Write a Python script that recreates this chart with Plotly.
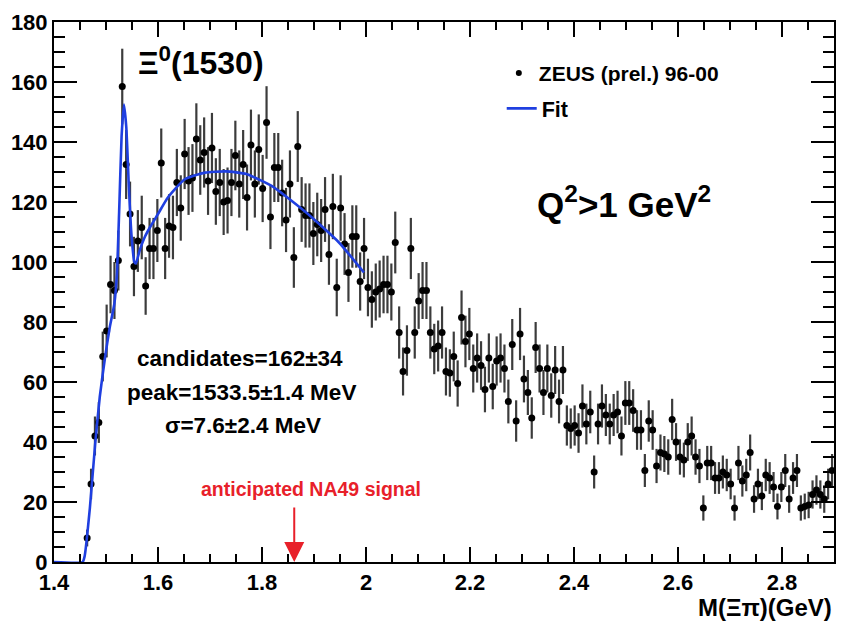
import numpy as np
import plotly.graph_objects as go

# Histogram binning (200 bins over 1.4-2.9 GeV)
bin_lo = 1.4
bin_width = 0.0075
first_bin = 8

counts = [8, 26, 42, 46.5, 68.5, 77, 92.5, 90.5, 100.5, 158.5,
          132.5, 116, 98.5, 107, 111.5, 92, 104.5, 104.5, 110.5, 133,
          104.5, 112, 111.5, 126.5, 118, 136, 127, 128, 141, 134,
          136.5, 127, 138, 123.5, 126.5, 120, 120.5, 126.5, 135.5, 126,
          132.5, 121.5, 139, 126, 137.5, 124.5, 146.5, 115, 131.5, 131.5,
          123, 114, 126, 101.5, 138.5, 117.5, 115.5, 115.5, 109.5, 112.5,
          110.5, 117.5, 102.5, 118.5, 91.5, 118, 106, 96.5, 108.5, 108.5,
          93.5, 104.5, 91.5, 87.5, 90, 91, 92.5, 92.5, 90, 106.5,
          76.5, 63.5, 70.5, 104.5, 76.5, 87, 90.5, 90.5, 76.5, 71,
          72, 76.5, 63.5, 63, 68.5, 59.5, 81.5, 73.5, 76, 64.5,
          68, 65.5, 57.5, 68, 58.5, 67, 68, 64.5, 53.5, 72.5,
          47, 76, 61, 56.5, 48, 71.5, 64.5, 56.5, 64.5, 55.5,
          64, 53.5, 64, 45.5, 44.5, 45.5, 43, 52, 46, 50,
          30, 46, 52, 49, 46, 49, 50, 42, 53, 53,
          50.5, 44, 44, 30.5, 47, 44, 32, 36.5, 36, 35,
          47.5, 40, 35, 34, 40, 42, 35, 32, 18, 33,
          33, 28, 28, 30, 29, 26, 18, 33, 27, 29,
          36.5, 21, 26, 22, 29, 28, 25, 18.5, 25, 30.5,
          21, 28, 30.5, 18, 18.5, 19, 22.5, 24, 22.5, 21,
          26, 30.5]

errors = [2.8, 5.1, 6.5, 6.8, 8.3, 8.8, 9.6, 9.5, 10.0, 12.6,
          11.5, 10.8, 9.9, 10.3, 10.6, 9.6, 10.2, 10.2, 10.5, 11.5,
          10.2, 10.6, 10.6, 11.2, 10.9, 11.7, 11.3, 11.3, 11.9, 11.6,
          11.7, 11.3, 11.7, 11.1, 11.2, 11.0, 11.0, 11.2, 11.6, 11.2,
          11.5, 11.0, 11.8, 11.2, 11.7, 11.2, 12.1, 10.7, 11.5, 11.5,
          11.1, 10.7, 11.2, 10.1, 11.8, 10.8, 10.7, 10.7, 10.5, 10.6,
          10.5, 10.8, 10.1, 10.9, 9.6, 10.9, 10.3, 9.8, 10.4, 10.4,
          9.7, 10.2, 9.6, 9.4, 9.5, 9.5, 9.6, 9.6, 9.5, 10.3,
          8.7, 8.0, 8.4, 10.2, 8.7, 9.3, 9.5, 9.5, 8.7, 8.4,
          8.5, 8.7, 8.0, 7.9, 8.3, 7.7, 9.0, 8.6, 8.7, 8.0,
          8.2, 8.1, 7.6, 8.2, 7.6, 8.2, 8.2, 8.0, 7.3, 8.5,
          6.9, 8.7, 7.8, 7.5, 6.9, 8.5, 8.0, 7.5, 8.0, 7.4,
          8.0, 7.3, 8.0, 6.7, 6.7, 6.7, 6.6, 7.2, 6.8, 7.1,
          5.5, 6.8, 7.2, 7.0, 6.8, 7.0, 7.1, 6.5, 7.3, 7.3,
          7.1, 6.6, 6.6, 5.5, 6.9, 6.6, 5.7, 6.0, 6.0, 5.9,
          6.9, 6.3, 5.9, 5.8, 6.3, 6.5, 5.9, 5.7, 4.2, 5.7,
          5.7, 5.3, 5.3, 5.5, 5.4, 5.1, 4.2, 5.7, 5.2, 5.4,
          6.0, 4.6, 5.1, 4.7, 5.4, 5.3, 5.0, 4.3, 5.0, 5.5,
          4.6, 5.3, 5.5, 4.2, 4.3, 4.4, 4.7, 4.9, 4.7, 4.6,
          5.1, 5.5]

# Fit curve
fit_x = [1.400, 1.455, 1.459, 1.469, 1.479, 1.488, 1.498, 1.507, 1.516,
         1.521, 1.5255, 1.530, 1.5345, 1.539, 1.544, 1.549, 1.5545, 1.5575,
         1.565, 1.575, 1.586, 1.600, 1.619, 1.651, 1.690, 1.731, 1.770,
         1.820, 1.885, 1.948, 1.996]
fit_y = [0, 0, 2, 18, 39, 55, 68, 78, 86,
         96, 118, 142, 152.5, 145, 125, 109, 100, 99.5,
         104, 108.5, 112, 116, 121.5, 127.5, 129.8, 130.2, 129.3,
         125.2, 116.5, 106.5, 96.5]

na49_mass = 1.862

x_centers = bin_lo + (first_bin + np.arange(len(counts)) + 0.5) * bin_width

FONT = "Liberation Sans, Arial, Helvetica, sans-serif"

fig = go.Figure()

fig.add_trace(go.Scatter(
    x=x_centers, y=counts, mode="markers",
    marker=dict(color="black", size=7),
    error_y=dict(type="data", array=errors, visible=True,
                 color="#3c3c3c", thickness=2.2, width=0),
    showlegend=False,
))

fig.add_trace(go.Scatter(
    x=fit_x, y=fit_y, mode="lines",
    line=dict(color="#1f3fe0", width=2.6, shape="spline", smoothing=0.5),
    name="Fit", legend="legend2",
))

# legend-only entry for the data
fig.add_trace(go.Scatter(
    x=[None], y=[None], mode="markers",
    marker=dict(color="black", size=6),
    name="ZEUS (prel.) 96-00", legend="legend",
))

annotations = [
    dict(x=1.682, y=167, text="<b>Ξ<sup>0</sup>(1530)</b>",
         font=dict(size=32, family=FONT, color="black")),
    dict(x=2.497, y=120, text="<b>Q<sup>2</sup>>1 GeV<sup>2</sup></b>",
         font=dict(size=35, family=FONT, color="black")),
    dict(x=1.757, y=68, text="<b>candidates=162±34</b>",
         font=dict(size=22.5, family=FONT, color="black")),
    dict(x=1.760, y=56.4, text="<b>peak=1533.5±1.4 MeV</b>",
         font=dict(size=22.5, family=FONT, color="black")),
    dict(x=1.764, y=45.6, text="<b>σ=7.6±2.4 MeV</b>",
         font=dict(size=22.5, family=FONT, color="black")),
    dict(x=1.895, y=24.5, text="<b>anticipated NA49 signal</b>",
         font=dict(size=19.5, family=FONT, color="#e8202a")),
]
for a in annotations:
    a.update(xref="x", yref="y", showarrow=False, xanchor="center", yanchor="middle")

# arrow
annotations.append(dict(
    x=na49_mass, y=0, ax=na49_mass, ay=18.7, xref="x", yref="y",
    axref="x", ayref="y", showarrow=True, arrowhead=2, arrowsize=2,
    arrowwidth=2, arrowcolor="#e8202a", text="", standoff=0,
))
# axis title
annotations.append(dict(
    x=1.0, y=-0.084, xref="paper", yref="paper", xanchor="right", yanchor="middle",
    text="<b>M(Ξπ)(GeV)</b>", showarrow=False,
    font=dict(size=24, family=FONT, color="black"),
))

fig.update_layout(
    width=846, height=621,
    margin=dict(l=54, r=10, t=13, b=59),
    paper_bgcolor="white", plot_bgcolor="white",
    font=dict(family=FONT, color="black"),
    annotations=annotations,
    legend=dict(x=0.5703, y=0.905, xanchor="left", yanchor="middle",
                bgcolor="rgba(0,0,0,0)",
                font=dict(size=21, family=FONT, weight="bold")),
    legend2=dict(x=0.574, y=0.840, xanchor="left", yanchor="middle",
                 bgcolor="rgba(0,0,0,0)",
                 font=dict(size=21.5, family=FONT, weight="bold")),
)

fig.update_xaxes(
    range=[1.4, 2.9], tick0=1.4, dtick=0.2, ticks="inside", ticklen=15,
    tickwidth=2, tickcolor="black", showline=True, linewidth=2,
    linecolor="black", mirror="allticks", showgrid=False, zeroline=False,
    tickfont=dict(size=22, family=FONT, weight="bold"),
    minor=dict(dtick=0.05, ticks="inside", ticklen=8, tickwidth=1.5,
               tickcolor="black", showgrid=False),
)
fig.update_yaxes(
    range=[0, 180], tick0=0, dtick=20, ticks="inside", ticklen=23,
    tickwidth=2, tickcolor="black", showline=True, linewidth=2,
    linecolor="black", mirror="allticks", showgrid=False, zeroline=False,
    tickfont=dict(size=22, family=FONT, weight="bold"),
    minor=dict(dtick=5, ticks="inside", ticklen=11, tickwidth=1.5,
               tickcolor="black", showgrid=False),
)

fig.write_html("out.html")
